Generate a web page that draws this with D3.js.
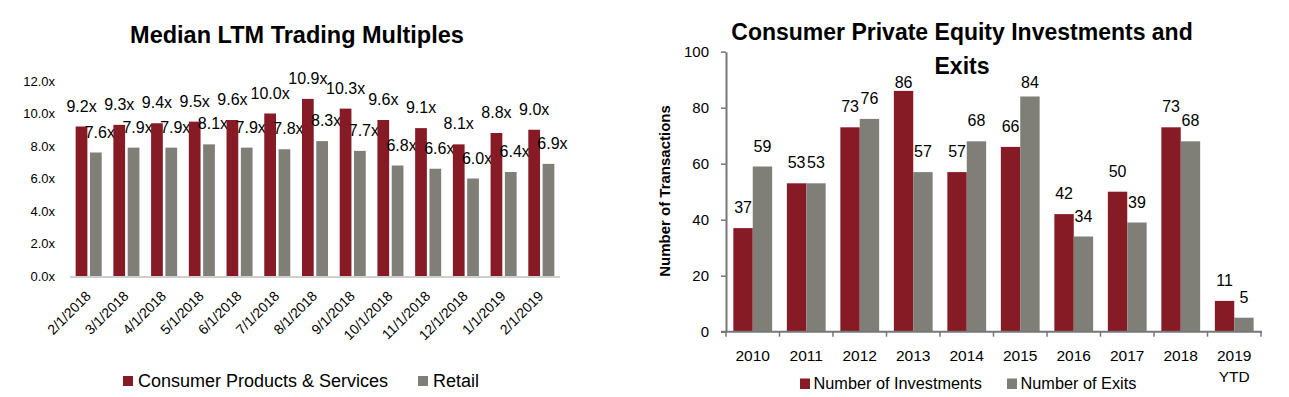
<!DOCTYPE html>
<html>
<head>
<meta charset="utf-8">
<script src="https://cdn.jsdelivr.net/npm/d3@7"></script>
<style>
  body { margin: 0; background: #fff; }
  svg { display: block; font-family: 'Liberation Sans', Arial, sans-serif; }
</style>
</head>
<body>
<svg id="chart" width="1289" height="397"></svg>
<script>
const months = ['2/1/2018', '3/1/2018', '4/1/2018', '5/1/2018', '6/1/2018', '7/1/2018', '8/1/2018', '9/1/2018', '10/1/2018', '11/1/2018', '12/1/2018', '1/1/2019', '2/1/2019'];
const consumerProducts = [9.2, 9.3, 9.4, 9.5, 9.6, 10.0, 10.9, 10.3, 9.6, 9.1, 8.1, 8.8, 9.0];
const retail = [7.6, 7.9, 7.9, 8.1, 7.9, 7.8, 8.3, 7.7, 6.8, 6.6, 6.0, 6.4, 6.9];
const multipleTicks = [0, 2, 4, 6, 8, 10, 12];

const years = ['2010', '2011', '2012', '2013', '2014', '2015', '2016', '2017', '2018', '2019 YTD'];
const investments = [37, 53, 73, 86, 57, 66, 42, 50, 73, 11];
const exits = [59, 53, 76, 57, 68, 84, 34, 39, 68, 5];
const countTicks = [0, 20, 40, 60, 80, 100];

const RED = '#861a25';
const GRAY = '#7f7f77';

const svg = d3.select('#chart');

const drawMultiples = function () {
  const g = svg.append('g');
  const series = ['cps', 'retail'];

  const x0 = d3.scaleBand().domain(months).range([70, 560]).paddingInner(0.31).paddingOuter(0.15);
  const x1 = d3.scaleBand().domain(series).range([0, x0.bandwidth()]).paddingInner(0.18);
  const y = d3.scaleLinear().domain([0, 12]).range([276, 81]);

  g.append('text').attr('x', 297).attr('y', 43).attr('text-anchor', 'middle')
    .attr('font-size', 23.5).attr('font-weight', 'bold').text('Median LTM Trading Multiples');

  const yAxis = g.append('g').attr('transform', 'translate(57,0)')
    .call(d3.axisLeft(y).tickValues(multipleTicks).tickSize(0).tickPadding(2).tickFormat((d) => d3.format('.1f')(d) + 'x'));
  yAxis.select('.domain').remove();
  yAxis.selectAll('text').attr('font-size', 13).attr('font-family', null).attr('fill', '#000');

  const rows = months.map((m, i) => ({ month: m, cps: consumerProducts[i], retail: retail[i] }));

  const groups = g.selectAll('.grp').data(rows).enter().append('g').attr('transform', (d) => 'translate(' + x0(d.month) + ',0)');

  groups.append('rect').attr('x', x1('cps')).attr('width', x1.bandwidth())
    .attr('y', (d) => y(d.cps)).attr('height', (d) => y(0) - y(d.cps)).attr('fill', RED);
  groups.append('rect').attr('x', x1('retail')).attr('width', x1.bandwidth())
    .attr('y', (d) => y(d.retail)).attr('height', (d) => y(0) - y(d.retail)).attr('fill', GRAY);

  groups.append('text').attr('x', x1('cps') + x1.bandwidth() / 2).attr('y', (d) => y(d.cps) - 15)
    .attr('text-anchor', 'middle').attr('font-size', 16).text((d) => d3.format('.1f')(d.cps) + 'x');
  groups.append('text').attr('x', x1('retail') + x1.bandwidth() / 2 + 4).attr('y', (d) => y(d.retail) - 15)
    .attr('text-anchor', 'middle').attr('font-size', 16).text((d) => d3.format('.1f')(d.retail) + 'x');

  g.append('line').attr('x1', 70).attr('x2', 560).attr('y1', y(0) + 1).attr('y2', y(0) + 1)
    .attr('stroke', '#cfcfcf').attr('stroke-width', 2);

  g.selectAll('.mlabel').data(months).enter().append('text')
    .attr('transform', (d) => 'translate(' + (x0(d) + x0.bandwidth() / 2 + 3) + ',297) rotate(-45)')
    .attr('text-anchor', 'end').attr('font-size', 14).attr('fill', '#000').text((d) => d);

  const legend = [
    { name: 'Consumer Products & Services', color: RED, x: 123 },
    { name: 'Retail', color: GRAY, x: 418 }
  ];
  const lg = g.selectAll('.leg').data(legend).enter().append('g');
  lg.append('rect').attr('x', (d) => d.x).attr('y', 376).attr('width', 10).attr('height', 10).attr('fill', (d) => d.color);
  lg.append('text').attr('x', (d) => d.x + 15).attr('y', 387).attr('font-size', 18).text((d) => d.name);
};

const drawDeals = function () {
  const g = svg.append('g');
  const series = ['inv', 'exit'];

  const x0 = d3.scaleBand().domain(years).range([726, 1261]).paddingInner(0.275).paddingOuter(0.1375);
  const x1 = d3.scaleBand().domain(series).range([0, x0.bandwidth()]);
  const y = d3.scaleLinear().domain([0, 100]).range([331.7, 51.7]);

  const title = g.append('text').attr('text-anchor', 'middle').attr('font-size', 23).attr('font-weight', 'bold');
  title.append('tspan').attr('x', 962).attr('y', 40).text('Consumer Private Equity Investments and');
  title.append('tspan').attr('x', 962).attr('y', 74).text('Exits');

  const rows = years.map((yr, i) => ({ year: yr, inv: investments[i], exit: exits[i] }));
  const groups = g.selectAll('.grp').data(rows).enter().append('g').attr('transform', (d) => 'translate(' + x0(d.year) + ',0)');

  groups.append('rect').attr('x', x1('inv')).attr('width', x1.bandwidth())
    .attr('y', (d) => y(d.inv)).attr('height', (d) => y(0) - y(d.inv)).attr('fill', RED);
  groups.append('rect').attr('x', x1('exit')).attr('width', x1.bandwidth())
    .attr('y', (d) => y(d.exit)).attr('height', (d) => y(0) - y(d.exit)).attr('fill', GRAY);

  // labels are kept under the title
  const labelY = (v) => Math.max(y(v) - 15, 87.5);
  groups.append('text').attr('x', x1('inv') + x1.bandwidth() / 2).attr('y', (d) => labelY(d.inv))
    .attr('text-anchor', 'middle').attr('font-size', 16).text((d) => d.inv);
  groups.append('text').attr('x', x1('exit') + x1.bandwidth() / 2).attr('y', (d) => labelY(d.exit))
    .attr('text-anchor', 'middle').attr('font-size', 16).text((d) => d.exit);

  const yAxis = g.append('g').attr('transform', 'translate(726,0)')
    .call(d3.axisLeft(y).tickValues(countTicks).tickSize(5).tickSizeOuter(0).tickPadding(12));
  yAxis.select('.domain').attr('stroke', '#777').attr('stroke-width', 2);
  yAxis.selectAll('line').attr('stroke', '#777').attr('stroke-width', 1.5);
  yAxis.selectAll('text').attr('font-size', 15).attr('font-family', null).attr('fill', '#000');

  // category axis with ticks between the groups
  const xa = g.append('g');
  xa.append('line').attr('x1', 721).attr('x2', 1262).attr('y1', y(0)).attr('y2', y(0)).attr('stroke', '#777').attr('stroke-width', 2);
  const bounds = years.map((d) => x0(d) - (x0.step() - x0.bandwidth()) / 2).concat([1261]);
  xa.selectAll('.tk').data(bounds).enter().append('line')
    .attr('x1', (d) => d).attr('x2', (d) => d).attr('y1', y(0)).attr('y2', y(0) + 5).attr('stroke', '#777').attr('stroke-width', 1.5);
  const lbl = xa.selectAll('.yl').data(years).enter().append('text')
    .attr('text-anchor', 'middle').attr('font-size', 15.5).attr('fill', '#000');
  lbl.each(function (d) {
    const parts = d.split(' ');
    const t = d3.select(this);
    parts.forEach((p, i) => {
      t.append('tspan').attr('x', x0(d) + x0.bandwidth() / 2).attr('y', 361 + i * 21).text(p);
    });
  });

  g.append('text').attr('transform', 'translate(670,191) rotate(-90)')
    .attr('text-anchor', 'middle').attr('font-size', 15).attr('font-weight', 'bold').text('Number of Transactions');

  const legend = [
    { name: 'Number of Investments', color: RED, x: 800 },
    { name: 'Number of Exits', color: GRAY, x: 1007 }
  ];
  const lg = g.selectAll('.leg').data(legend).enter().append('g');
  lg.append('rect').attr('x', (d) => d.x).attr('y', 378.5).attr('width', 10).attr('height', 10.5).attr('fill', (d) => d.color);
  lg.append('text').attr('x', (d) => d.x + 13.5).attr('y', 389).attr('font-size', 16.3).text((d) => d.name);
};

drawMultiples();
drawDeals();
</script>
</body>
</html>
